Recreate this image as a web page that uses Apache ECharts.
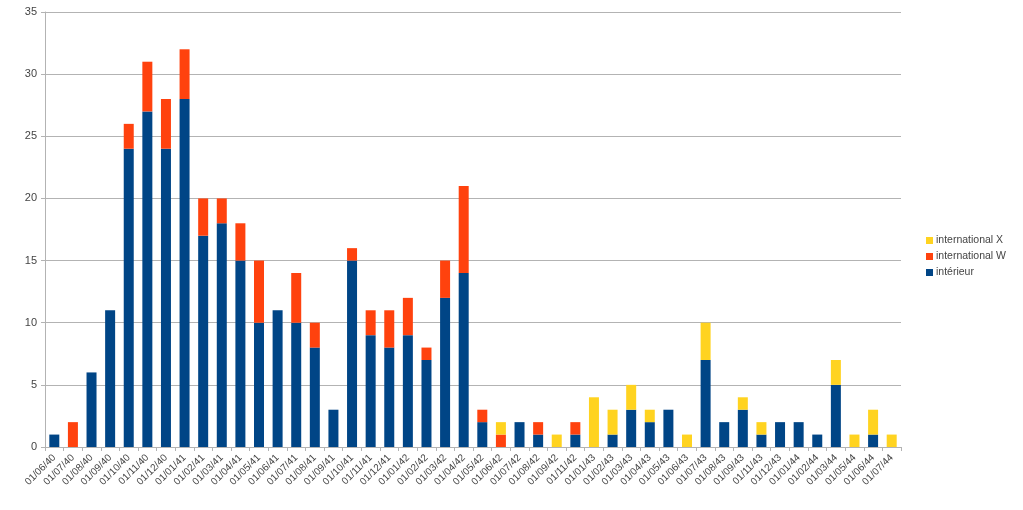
<!DOCTYPE html>
<html>
<head>
<meta charset="utf-8">
<script src="https://cdn.jsdelivr.net/npm/echarts@6/dist/echarts.min.js"></script>
<style>
  html, body { margin: 0; padding: 0; background: #fff; }
  #chart { width: 1023px; height: 510px; }
</style>
</head>
<body>
<div id="chart"></div>
<script>
const categories = [
  '01/06/40','01/07/40','01/08/40','01/09/40','01/10/40','01/11/40','01/12/40',
  '01/01/41','01/02/41','01/03/41','01/04/41','01/05/41','01/06/41','01/07/41','01/08/41','01/09/41','01/10/41','01/11/41','01/12/41',
  '01/01/42','01/02/42','01/03/42','01/04/42','01/05/42','01/06/42','01/07/42','01/08/42','01/09/42','01/11/42',
  '01/01/43','01/02/43','01/03/43','01/04/43','01/05/43','01/06/43','01/07/43','01/08/43','01/09/43','01/11/43','01/12/43',
  '01/01/44','01/02/44','01/03/44','01/05/44','01/06/44','01/07/44'
];
const interieur = [
  1, 0, 6, 11, 24, 27, 24,
  28, 17, 18, 15, 10, 11, 10, 8, 3, 15, 9, 8,
  9, 7, 12, 14, 2, 0, 2, 1, 0, 1,
  0, 1, 3, 2, 3, 0, 7, 2, 3, 1, 2,
  2, 1, 5, 0, 1, 0
];
const internationalW = [
  0, 2, 0, 0, 2, 4, 4,
  4, 3, 2, 3, 5, 0, 4, 2, 0, 1, 2, 3,
  3, 1, 3, 7, 1, 1, 0, 1, 0, 1,
  0, 0, 0, 0, 0, 0, 0, 0, 0, 0, 0,
  0, 0, 0, 0, 0, 0
];
const internationalX = [
  0, 0, 0, 0, 0, 0, 0,
  0, 0, 0, 0, 0, 0, 0, 0, 0, 0, 0, 0,
  0, 0, 0, 0, 0, 1, 0, 0, 1, 0,
  4, 2, 2, 1, 0, 1, 3, 0, 1, 1, 0,
  0, 0, 2, 1, 2, 1
];
const yTicks = { min: 0, max: 35, interval: 5 };

const chart = echarts.init(document.getElementById('chart'));
const textColor = '#444';
const series = [
  { name: 'intérieur', data: interieur, color: '#004586' },
  { name: 'international W', data: internationalW, color: '#ff420e' },
  { name: 'international X', data: internationalX, color: '#ffd320' }
].map(s => ({
  name: s.name,
  type: 'bar',
  stack: 'total',
  data: s.data,
  barWidth: 10,
  itemStyle: { color: s.color },
  emphasis: { disabled: true }
}));

chart.setOption({
  animation: false,
  grid: { left: 45, right: 122, top: 12, bottom: 63, containLabel: false },
  legend: {
    orient: 'vertical',
    left: 921,
    top: 230,
    itemWidth: 7,
    itemHeight: 7,
    itemGap: 5,
    icon: 'rect',
    data: ['international X', 'international W', 'intérieur'],
    textStyle: { fontFamily: 'Liberation Sans', fontSize: 10.5, color: textColor, padding: [0, 0, 0, -2] }
  },
  xAxis: {
    type: 'category',
    data: categories,
    axisLine: { lineStyle: { color: '#b3b3b3' } },
    axisTick: { show: true, length: 4, lineStyle: { color: '#b3b3b3' } },
    axisLabel: {
      interval: 0,
      rotate: 45,
      fontFamily: 'Liberation Sans',
      fontSize: 10,
      color: textColor,
      margin: 9
    }
  },
  yAxis: {
    type: 'value',
    min: yTicks.min,
    max: yTicks.max,
    interval: yTicks.interval,
    axisLine: { show: true, lineStyle: { color: '#b3b3b3' } },
    axisTick: { show: true, length: 4, lineStyle: { color: '#b3b3b3' } },
    splitLine: { lineStyle: { color: '#b3b3b3' } },
    axisLabel: { fontFamily: 'Liberation Sans', fontSize: 11, color: textColor, margin: 8 }
  },
  series: series
});
</script>
</body>
</html>
